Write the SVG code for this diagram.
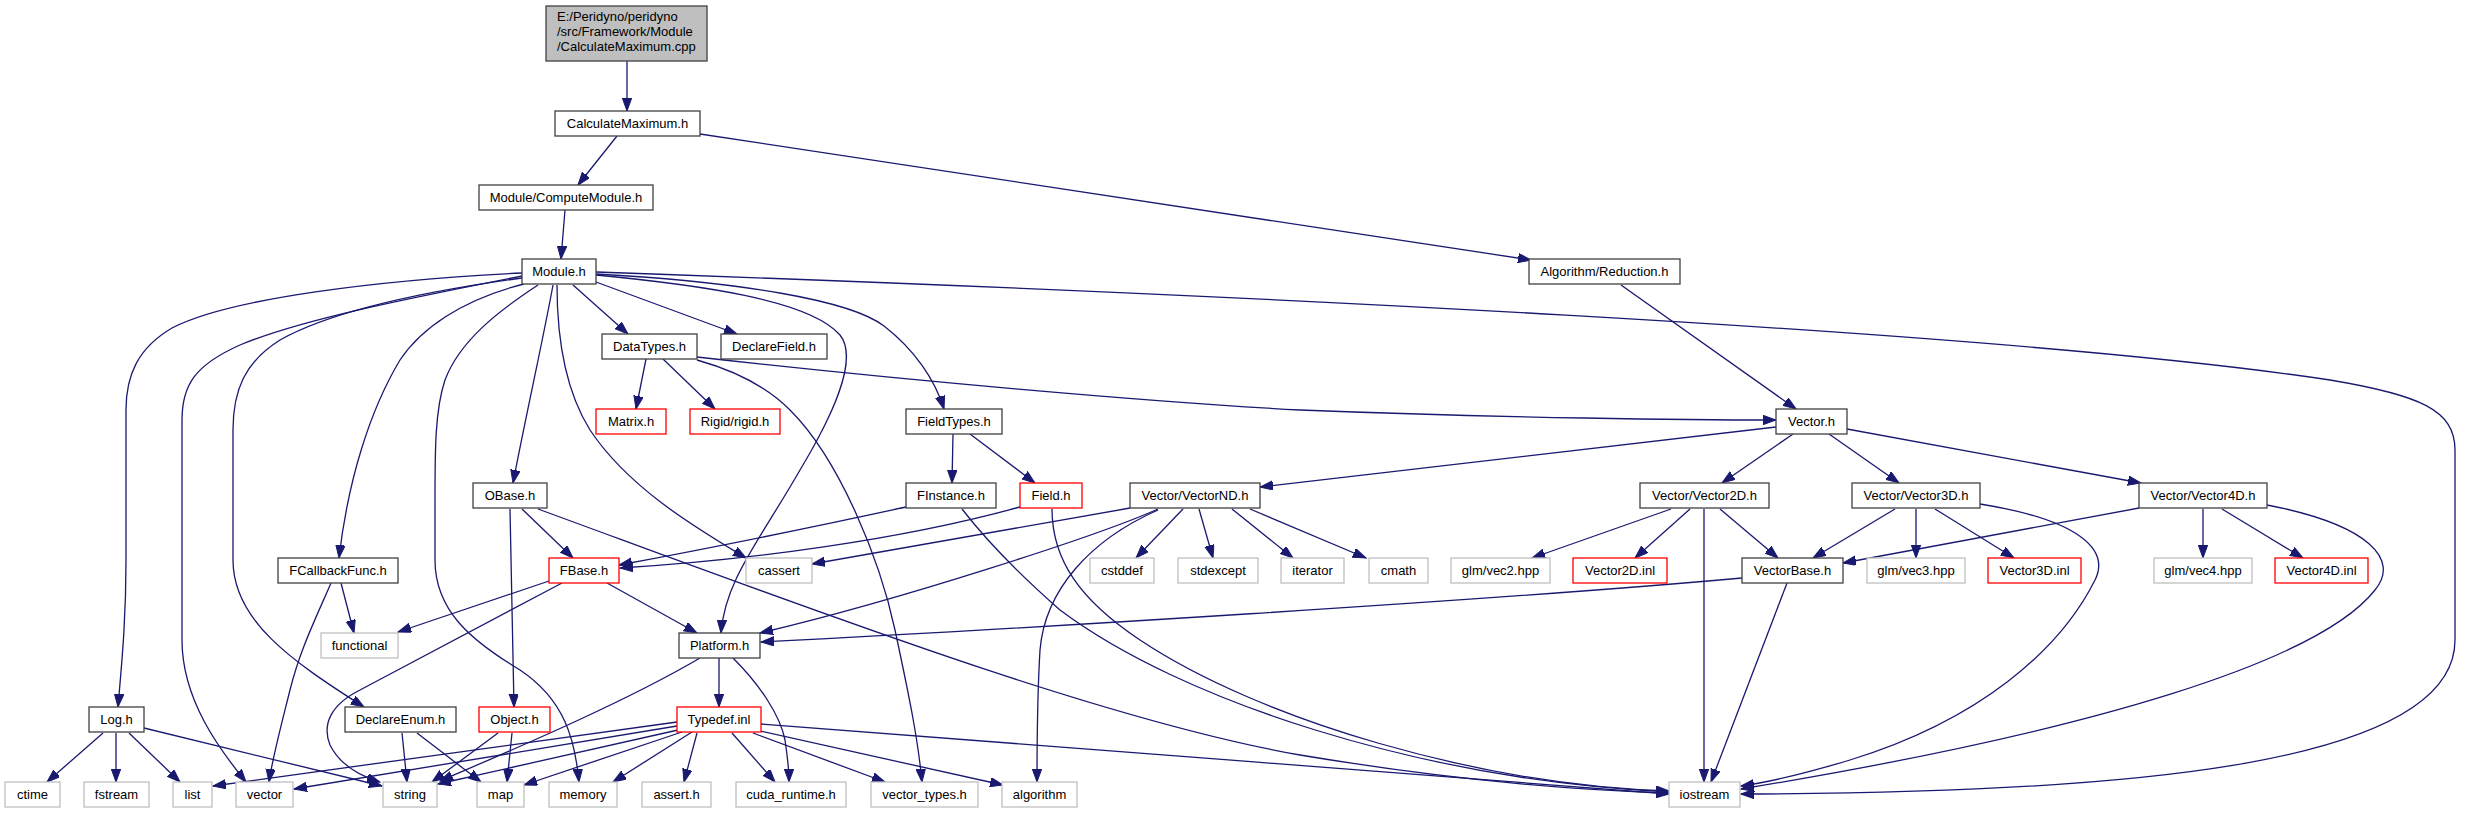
<svg xmlns="http://www.w3.org/2000/svg" width="2467" height="813" viewBox="0 0 2467 813">
<style>
.nd rect{fill:#fff;stroke:#404040;stroke-width:1.3}
.nd.r rect{stroke:#ff0000}
.nd.g rect{stroke:#bfbfbf}
.nd.root rect{fill:#bfbfbf}
.nd text{font-family:"Liberation Sans",Arial,sans-serif;font-size:13px;fill:#000;text-anchor:middle}
.nd.root text{text-anchor:start}
#edges path{fill:none;stroke:#191970;stroke-width:1.3;marker-end:url(#a)}
</style>
<defs>
<marker id="a" markerUnits="userSpaceOnUse" markerWidth="14" markerHeight="10" refX="13" refY="4.7" orient="auto">
<path d="M0,0 L13,4.7 L0,9.4 z" fill="#191970" stroke="#191970" stroke-width="1"/>
</marker>
</defs>
<rect width="2467" height="813" fill="#fff"/>
<g id="edges">
<path d="M627,61 L627,111"/>
<path d="M617,136 L578,185"/>
<path d="M700,134 L1531,260"/>
<path d="M565,210 L561,259"/>
<path d="M1621,285 L1796,409"/>
<path d="M522,273 C380,280 230,298 172,328 C138,348 126,375 126,410 L126,560 C126,620 122,660 118,707"/>
<path d="M522,276 C400,300 300,320 240,345 C195,365 182,385 182,420 L182,640 C182,700 220,750 246,782"/>
<path d="M522,278 C420,292 330,312 280,340 C245,362 233,390 233,430 L233,560 C233,620 290,660 364,707"/>
<path d="M524,284 C460,300 420,330 400,360 C370,410 348,480 339,558"/>
<path d="M538,285 C500,310 460,340 445,380 C435,410 435,450 435,500 L435,560 C435,610 470,640 520,670 C565,700 575,740 579,782"/>
<path d="M553,285 C545,330 525,420 513,483"/>
<path d="M557,285 C557,340 565,390 590,430 C630,490 700,530 746,558"/>
<path d="M573,285 L628,334"/>
<path d="M596,282 L737,334"/>
<path d="M596,275 C700,285 810,300 840,335 C860,360 830,420 800,470 C760,540 725,580 721,633"/>
<path d="M596,274 C740,282 850,300 884,326 C915,350 935,380 944,409"/>
<path d="M596,272 C1200,293 2000,330 2330,380 C2420,395 2455,410 2455,450 L2455,640 C2455,770 2100,793 1741,794"/>
<path d="M646,359 L636,409"/>
<path d="M663,359 L715,409"/>
<path d="M697,360 C740,372 770,390 790,410 C840,460 880,560 895,630 C910,700 918,740 922,782"/>
<path d="M697,357 C900,380 1150,402 1300,410 C1500,418 1700,420 1776,420"/>
<path d="M953,434 L952,483"/>
<path d="M970,434 L1035,483"/>
<path d="M1776,427 L1260,487"/>
<path d="M1793,434 L1722,483"/>
<path d="M1829,434 L1899,483"/>
<path d="M1847,429 L2141,483"/>
<path d="M522,509 L573,558"/>
<path d="M510,509 C511,580 513,650 514,707"/>
<path d="M538,509 C800,605 1100,720 1300,755 C1450,780 1570,790 1669,793"/>
<path d="M906,507 C800,530 700,550 619,565"/>
<path d="M962,509 C990,545 1020,575 1060,610 C1180,700 1420,780 1669,792"/>
<path d="M1020,507 C900,540 750,560 620,568"/>
<path d="M1052,509 C1052,560 1080,600 1140,640 C1260,720 1480,785 1669,791"/>
<path d="M1130,508 L812,564"/>
<path d="M1158,509 C1100,535 900,600 760,633"/>
<path d="M1158,510 C1090,540 1045,590 1040,650 C1037,700 1037,740 1037,782"/>
<path d="M1183,509 L1136,558"/>
<path d="M1199,509 L1213,558"/>
<path d="M1232,509 L1293,558"/>
<path d="M1250,509 L1366,558"/>
<path d="M1671,509 L1532,558"/>
<path d="M1690,509 L1635,558"/>
<path d="M1704,509 L1704,782"/>
<path d="M1720,509 L1778,558"/>
<path d="M1895,509 L1813,558"/>
<path d="M1916,509 L1916,558"/>
<path d="M1935,509 L2014,558"/>
<path d="M1980,504 C2080,520 2110,550 2095,580 C2060,650 1980,720 1850,760 C1800,775 1770,782 1741,786"/>
<path d="M2139,508 L1843,563"/>
<path d="M2203,509 L2203,558"/>
<path d="M2222,509 L2303,558"/>
<path d="M2267,505 C2370,525 2400,560 2375,590 C2320,660 2100,730 1741,789"/>
<path d="M1742,578 C1500,600 1000,630 761,642"/>
<path d="M1787,583 L1711,782"/>
<path d="M341,583 L354,633"/>
<path d="M331,583 C315,620 300,650 290,690 C280,730 272,760 269,782"/>
<path d="M549,581 L398,632"/>
<path d="M562,583 L360,690 C330,705 322,725 330,745 C340,765 360,776 380,782"/>
<path d="M607,583 L697,633"/>
<path d="M719,658 L719,707"/>
<path d="M733,658 C760,685 780,715 785,740 C788,760 789,770 789,782"/>
<path d="M700,658 C620,705 500,755 440,781"/>
<path d="M103,733 L47,782"/>
<path d="M116,733 L116,782"/>
<path d="M129,733 L180,782"/>
<path d="M144,728 L382,786"/>
<path d="M402,733 L407,782"/>
<path d="M417,733 L481,782"/>
<path d="M498,733 L432,782"/>
<path d="M512,733 L507,782"/>
<path d="M677,722 L213,786"/>
<path d="M677,726 L294,789"/>
<path d="M678,730 L438,784"/>
<path d="M682,732 L524,785"/>
<path d="M692,732 L613,782"/>
<path d="M697,733 L684,782"/>
<path d="M732,733 L775,782"/>
<path d="M753,733 L885,782"/>
<path d="M760,731 L1003,785"/>
<path d="M761,724 C1000,740 1400,775 1669,794"/>
</g>
<g id="n-root" class="nd root"><rect x="546" y="6" width="161" height="55"/><text x="557" y="21">E:/Peridyno/peridyno</text><text x="557" y="36">/src/Framework/Module</text><text x="557" y="51">/CalculateMaximum.cpp</text></g>
<g id="n-calcmax" class="nd"><rect x="555" y="111" width="145" height="25"/><text x="627.5" y="128">CalculateMaximum.h</text></g>
<g id="n-compmod" class="nd"><rect x="479" y="185" width="174" height="25"/><text x="566" y="202">Module/ComputeModule.h</text></g>
<g id="n-module" class="nd"><rect x="522" y="259" width="74" height="25"/><text x="559" y="276">Module.h</text></g>
<g id="n-reduction" class="nd"><rect x="1529" y="259" width="151" height="25"/><text x="1604.5" y="276">Algorithm/Reduction.h</text></g>
<g id="n-datatypes" class="nd"><rect x="602" y="334" width="95" height="25"/><text x="649.5" y="351">DataTypes.h</text></g>
<g id="n-declarefield" class="nd"><rect x="721" y="334" width="106" height="25"/><text x="774" y="351">DeclareField.h</text></g>
<g id="n-matrix" class="nd r"><rect x="596" y="409" width="70" height="25"/><text x="631" y="426">Matrix.h</text></g>
<g id="n-rigid" class="nd r"><rect x="690" y="409" width="90" height="25"/><text x="735" y="426">Rigid/rigid.h</text></g>
<g id="n-fieldtypes" class="nd"><rect x="906" y="409" width="96" height="25"/><text x="954" y="426">FieldTypes.h</text></g>
<g id="n-vector" class="nd"><rect x="1776" y="409" width="71" height="25"/><text x="1811.5" y="426">Vector.h</text></g>
<g id="n-obase" class="nd"><rect x="473" y="483" width="74" height="25"/><text x="510" y="500">OBase.h</text></g>
<g id="n-finstance" class="nd"><rect x="906" y="483" width="90" height="25"/><text x="951" y="500">FInstance.h</text></g>
<g id="n-field" class="nd r"><rect x="1020" y="483" width="62" height="25"/><text x="1051" y="500">Field.h</text></g>
<g id="n-vectornd" class="nd"><rect x="1130" y="483" width="130" height="25"/><text x="1195" y="500">Vector/VectorND.h</text></g>
<g id="n-vector2d" class="nd"><rect x="1640" y="483" width="129" height="25"/><text x="1704.5" y="500">Vector/Vector2D.h</text></g>
<g id="n-vector3d" class="nd"><rect x="1852" y="483" width="128" height="25"/><text x="1916" y="500">Vector/Vector3D.h</text></g>
<g id="n-vector4d" class="nd"><rect x="2139" y="483" width="128" height="25"/><text x="2203" y="500">Vector/Vector4D.h</text></g>
<g id="n-fcallback" class="nd"><rect x="278" y="558" width="120" height="25"/><text x="338" y="575">FCallbackFunc.h</text></g>
<g id="n-fbase" class="nd r"><rect x="549" y="558" width="70" height="25"/><text x="584" y="575">FBase.h</text></g>
<g id="n-cassert" class="nd g"><rect x="746" y="558" width="66" height="25"/><text x="779" y="575">cassert</text></g>
<g id="n-cstddef" class="nd g"><rect x="1090" y="558" width="64" height="25"/><text x="1122" y="575">cstddef</text></g>
<g id="n-stdexcept" class="nd g"><rect x="1178" y="558" width="80" height="25"/><text x="1218" y="575">stdexcept</text></g>
<g id="n-iterator" class="nd g"><rect x="1281" y="558" width="63" height="25"/><text x="1312.5" y="575">iterator</text></g>
<g id="n-cmath" class="nd g"><rect x="1369" y="558" width="59" height="25"/><text x="1398.5" y="575">cmath</text></g>
<g id="n-vec2hpp" class="nd g"><rect x="1451" y="558" width="99" height="25"/><text x="1500.5" y="575">glm/vec2.hpp</text></g>
<g id="n-v2inl" class="nd r"><rect x="1573" y="558" width="94" height="25"/><text x="1620" y="575">Vector2D.inl</text></g>
<g id="n-vectorbase" class="nd"><rect x="1742" y="558" width="101" height="25"/><text x="1792.5" y="575">VectorBase.h</text></g>
<g id="n-vec3hpp" class="nd g"><rect x="1867" y="558" width="98" height="25"/><text x="1916" y="575">glm/vec3.hpp</text></g>
<g id="n-v3inl" class="nd r"><rect x="1988" y="558" width="93" height="25"/><text x="2034.5" y="575">Vector3D.inl</text></g>
<g id="n-vec4hpp" class="nd g"><rect x="2154" y="558" width="98" height="25"/><text x="2203" y="575">glm/vec4.hpp</text></g>
<g id="n-v4inl" class="nd r"><rect x="2275" y="558" width="93" height="25"/><text x="2321.5" y="575">Vector4D.inl</text></g>
<g id="n-functional" class="nd g"><rect x="321" y="633" width="77" height="25"/><text x="359.5" y="650">functional</text></g>
<g id="n-platform" class="nd"><rect x="679" y="633" width="81" height="25"/><text x="719.5" y="650">Platform.h</text></g>
<g id="n-log" class="nd"><rect x="89" y="707" width="55" height="25"/><text x="116.5" y="724">Log.h</text></g>
<g id="n-declareenum" class="nd"><rect x="345" y="707" width="111" height="25"/><text x="400.5" y="724">DeclareEnum.h</text></g>
<g id="n-object" class="nd r"><rect x="479" y="707" width="71" height="25"/><text x="514.5" y="724">Object.h</text></g>
<g id="n-typedef" class="nd r"><rect x="677" y="707" width="84" height="25"/><text x="719" y="724">Typedef.inl</text></g>
<g id="n-ctime" class="nd g"><rect x="5" y="782" width="55" height="25"/><text x="32.5" y="799">ctime</text></g>
<g id="n-fstream" class="nd g"><rect x="84" y="782" width="65" height="25"/><text x="116.5" y="799">fstream</text></g>
<g id="n-list" class="nd g"><rect x="173" y="782" width="39" height="25"/><text x="192.5" y="799">list</text></g>
<g id="n-vectorstd" class="nd g"><rect x="236" y="782" width="57" height="25"/><text x="264.5" y="799">vector</text></g>
<g id="n-string" class="nd g"><rect x="383" y="782" width="54" height="25"/><text x="410" y="799">string</text></g>
<g id="n-map" class="nd g"><rect x="477" y="782" width="47" height="25"/><text x="500.5" y="799">map</text></g>
<g id="n-memory" class="nd g"><rect x="549" y="782" width="68" height="25"/><text x="583" y="799">memory</text></g>
<g id="n-asserth" class="nd g"><rect x="642" y="782" width="69" height="25"/><text x="676.5" y="799">assert.h</text></g>
<g id="n-cuda" class="nd g"><rect x="736" y="782" width="110" height="25"/><text x="791" y="799">cuda_runtime.h</text></g>
<g id="n-vtypes" class="nd g"><rect x="871" y="782" width="107" height="25"/><text x="924.5" y="799">vector_types.h</text></g>
<g id="n-algorithm" class="nd g"><rect x="1002" y="782" width="75" height="25"/><text x="1039.5" y="799">algorithm</text></g>
<g id="n-iostream" class="nd g"><rect x="1669" y="782" width="71" height="25"/><text x="1704.5" y="799">iostream</text></g>
</svg>
